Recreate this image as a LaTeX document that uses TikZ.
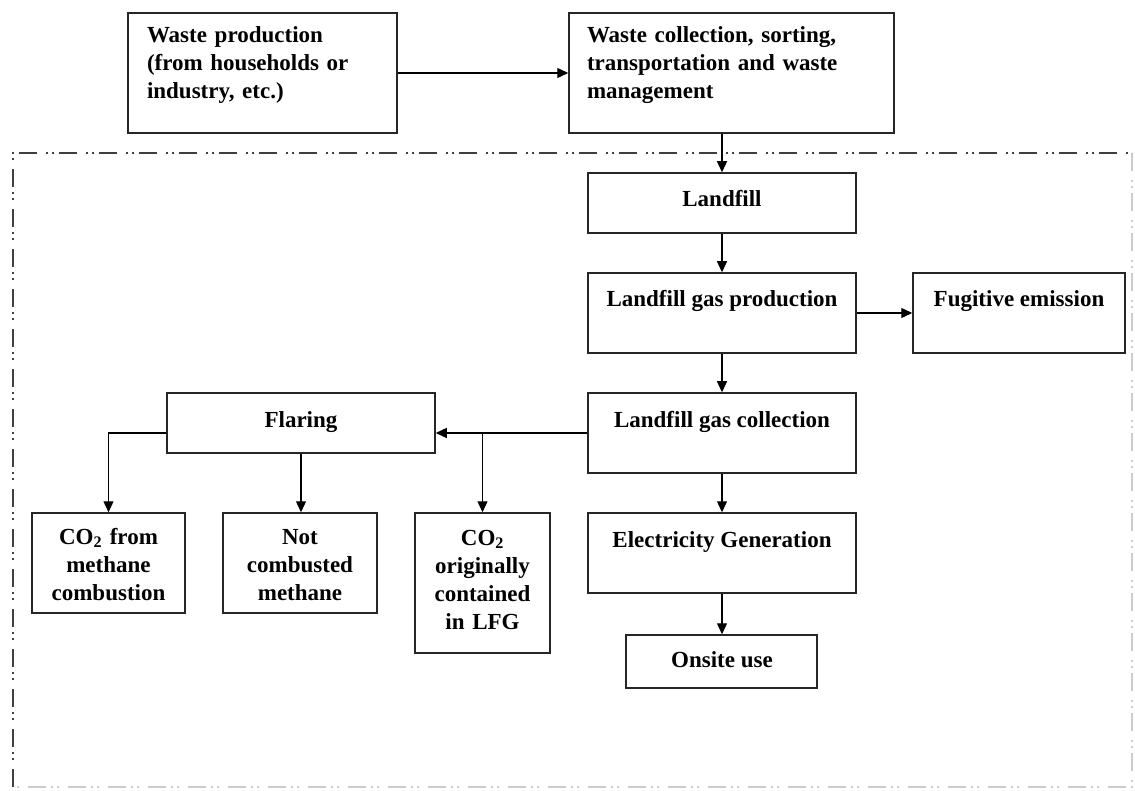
\documentclass[tikz,border=0pt]{standalone}
\usepackage{fontspec}
\setmainfont{Liberation Serif}
\usetikzlibrary{arrows.meta,calc}
\begin{document}
\begin{tikzpicture}[x=1pt,y=-1pt,
  box/.style={draw=black!85,line width=1.5pt,rectangle,inner sep=0pt},
  txt/.style={inner sep=0pt,font=\fontsize{23}{28}\selectfont\bfseries},
  mtxt/.style={txt,align=center,anchor=base},
  ltxt/.style={txt,align=left,anchor=base},
  arr/.style={line width=1.3pt,-{Triangle[length=11pt,width=10pt]}},
  frame/.style={line width=1.3pt,black!75,dash pattern=on 18pt off 9pt on 2pt off 4pt on 2pt off 5pt},
  framelight/.style={frame,black!20}]
\useasboundingbox (0,0) rectangle (1135,791);
\fill[white] (0,0) rectangle (1135,791);
% frame
\coordinate (ftl) at (13,153);
\coordinate (ftr) at (1132,153);
\coordinate (fbl) at (13,787);
\coordinate (fbr) at (1132,787);
\draw[framelight] (ftr) -- (fbr) -- (fbl);
\draw[frame] (fbl) -- (ftl) -- (ftr);
% boxes
\node[box,minimum width=269pt,minimum height=120pt] (A) at (262.5,73) {};
\node[box,minimum width=325pt,minimum height=120pt] (B) at (731.5,73) {};
\node[box,minimum width=268pt,minimum height=60pt] (lf) at (722,203) {};
\node[box,minimum width=268pt,minimum height=80pt] (lgp) at (722,313) {};
\node[box,minimum width=212pt,minimum height=80pt] (fug) at (1019,313) {};
\node[box,minimum width=268pt,minimum height=80pt] (lgc) at (722,433) {};
\node[box,minimum width=268pt,minimum height=80pt] (eg) at (722,553) {};
\node[box,minimum width=191pt,minimum height=53pt] (ons) at (721.5,661.5) {};
\node[box,minimum width=268pt,minimum height=60pt] (fl) at (301,423) {};
\node[box,minimum width=153pt,minimum height=100pt] (co2a) at (108.5,563) {};
\node[box,minimum width=154pt,minimum height=100pt] (notc) at (300,563) {};
\node[box,minimum width=135pt,minimum height=140pt] (co2o) at (482.5,583) {};
% texts
\node[ltxt,text width=240pt] (At) at (147+120,43) {Waste production\\(from households or\\industry, etc.)};
\node[ltxt,text width=300pt] (Bt) at (587+150,43) {Waste collection, sorting,\\transportation and waste\\management};
\node[mtxt] (lft) at (722,207) {Landfill};
\node[mtxt] (lgpt) at (722,307) {Landfill gas production};
\node[mtxt] (fugt) at (1019,307) {Fugitive emission};
\node[mtxt] (lgct) at (722,427) {Landfill gas collection};
\node[mtxt] (egt) at (722,547) {Electricity Generation};
\node[mtxt] (onst) at (722,667) {Onsite use};
\node[mtxt] (flt) at (301,428) {Flaring};
\node[mtxt,text width=150pt] (co2at) at (108.5,544) {CO\textsubscript{2} from\\methane\\combustion};
\node[mtxt,text width=150pt] (notct) at (300,544) {Not\\combusted\\methane};
\node[mtxt,text width=135pt] (co2ot) at (482.5,545) {CO\textsubscript{2}\\originally\\contained\\in LFG};
% connectors
\draw[arr] (A.east) -- (B.west);
\draw[arr] (B.south -| lf.north) -- (lf.north);
\draw[arr] (lf.south) -- (lgp.north);
\draw[arr] (lgp.east) -- (fug.west);
\draw[arr] (lgp.south) -- (lgc.north);
\draw[arr] (lgc.south) -- (eg.north);
\draw[arr] (eg.south) -- (ons.north -| eg.south);
\draw[arr] (lgc.west) -- (lgc.west -| fl.east);
\coordinate (br) at (lgc.west -| co2o.north);
\draw[arr] (br) -- (co2o.north);
\draw[arr] (lgc.west -| fl.west) -| (co2a.north);
\draw[arr] (fl.south) -- (fl.south |- notc.north);
\end{tikzpicture}
\end{document}
